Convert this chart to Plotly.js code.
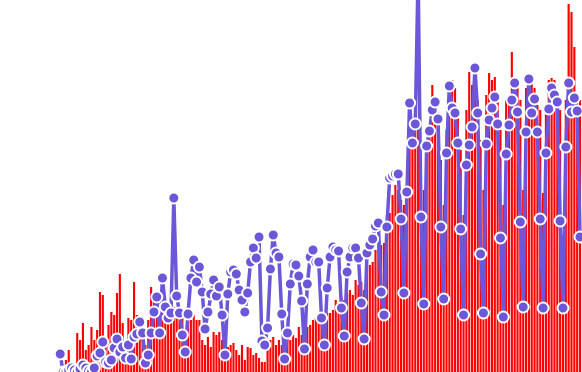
<!DOCTYPE html>
<html>
<head>
<meta charset="utf-8">
<script src="https://cdn.plot.ly/plotly-3.0.1.min.js"></script>
<style>html,body{margin:0;padding:0;background:#fff;}#chart{width:582px;height:372px;}</style>
</head>
<body>
<div id="chart"></div>
<script>
// daily values (arbitrary units), day 0 .. 183
const barValues = [
0,0,12,22,10,7,39,32,49,22,27,45,32,42,80,77,27,47,60,57,
79,98,49,32,54,52,90,57,47,42,27,52,85,72,64,67,65,52,62,49,
65,62,62,54,42,52,52,57,52,52,32,27,35,25,40,37,40,32,22,25,
27,29,22,17,27,12,25,24,17,19,14,10,10,25,32,35,27,32,27,25,
40,32,37,34,45,37,32,45,47,52,54,52,55,54,59,59,62,72,69,75,
72,79,82,77,92,87,90,82,104,107,110,122,152,127,129,157,159,177,187,182,
172,167,187,267,232,272,252,197,182,232,242,287,262,222,212,167,242,290,292,284,
262,222,157,262,300,287,279,272,232,182,277,299,292,295,275,242,167,272,277,320,
292,287,272,182,284,295,292,284,267,262,179,262,292,294,292,272,262,137,272,368,
360,325,277,272
];
const lineValues = [
18,0,0,2,4,2,0,3,7,4,1,0,4,16,19,30,10,9,12,24,
33,20,25,14,27,13,35,38,50,39,9,17,39,60,75,39,94,65,54,59,
174,76,59,37,20,58,94,112,90,105,80,43,60,78,92,76,85,57,17,78,
100,102,98,82,72,60,79,110,124,114,135,31,27,44,103,137,119,115,58,13,
39,88,108,107,96,71,23,88,115,122,110,110,54,27,84,115,125,122,121,64,
36,100,115,124,124,114,69,33,119,127,133,146,149,80,57,145,194,196,198,198,
153,79,180,269,229,248,400,155,68,226,241,262,270,253,145,73,219,286,264,259,
229,143,57,207,227,245,304,259,118,59,228,252,264,275,248,134,55,218,247,272,
289,260,150,65,240,293,259,273,240,153,64,219,263,284,277,270,151,64,225,289,
260,274,261,135
];
const days = lineValues.map((_, i) => i);

const traces = [
  {
    type: 'bar', x: days, y: barValues,
    marker: {color: '#ff0000', line: {width: 0}},
    hoverinfo: 'skip'
  },
  {
    type: 'scatter', mode: 'lines+markers', x: days, y: lineValues, yaxis: 'y2',
    line: {color: '#6c57d8', width: 3.5},
    marker: {color: '#6c57d8', size: 11, line: {color: '#ffffff', width: 2}},
    hoverinfo: 'skip'
  }
];

const layout = {
  width: 582, height: 372,
  margin: {l: 0, r: 0, t: 0, b: 0, pad: 0},
  paper_bgcolor: '#ffffff', plot_bgcolor: '#ffffff',
  showlegend: false,
  bargap: 0.25,
  xaxis: {range: [-21.2, 183.7], visible: false, fixedrange: true},
  yaxis: {range: [0, 372], visible: false, fixedrange: true},
  yaxis2: {range: [0, 372], visible: false, overlaying: 'y', side: 'right', fixedrange: true}
};

Plotly.newPlot('chart', traces, layout, {staticPlot: true, displayModeBar: false});
</script>
</body>
</html>
